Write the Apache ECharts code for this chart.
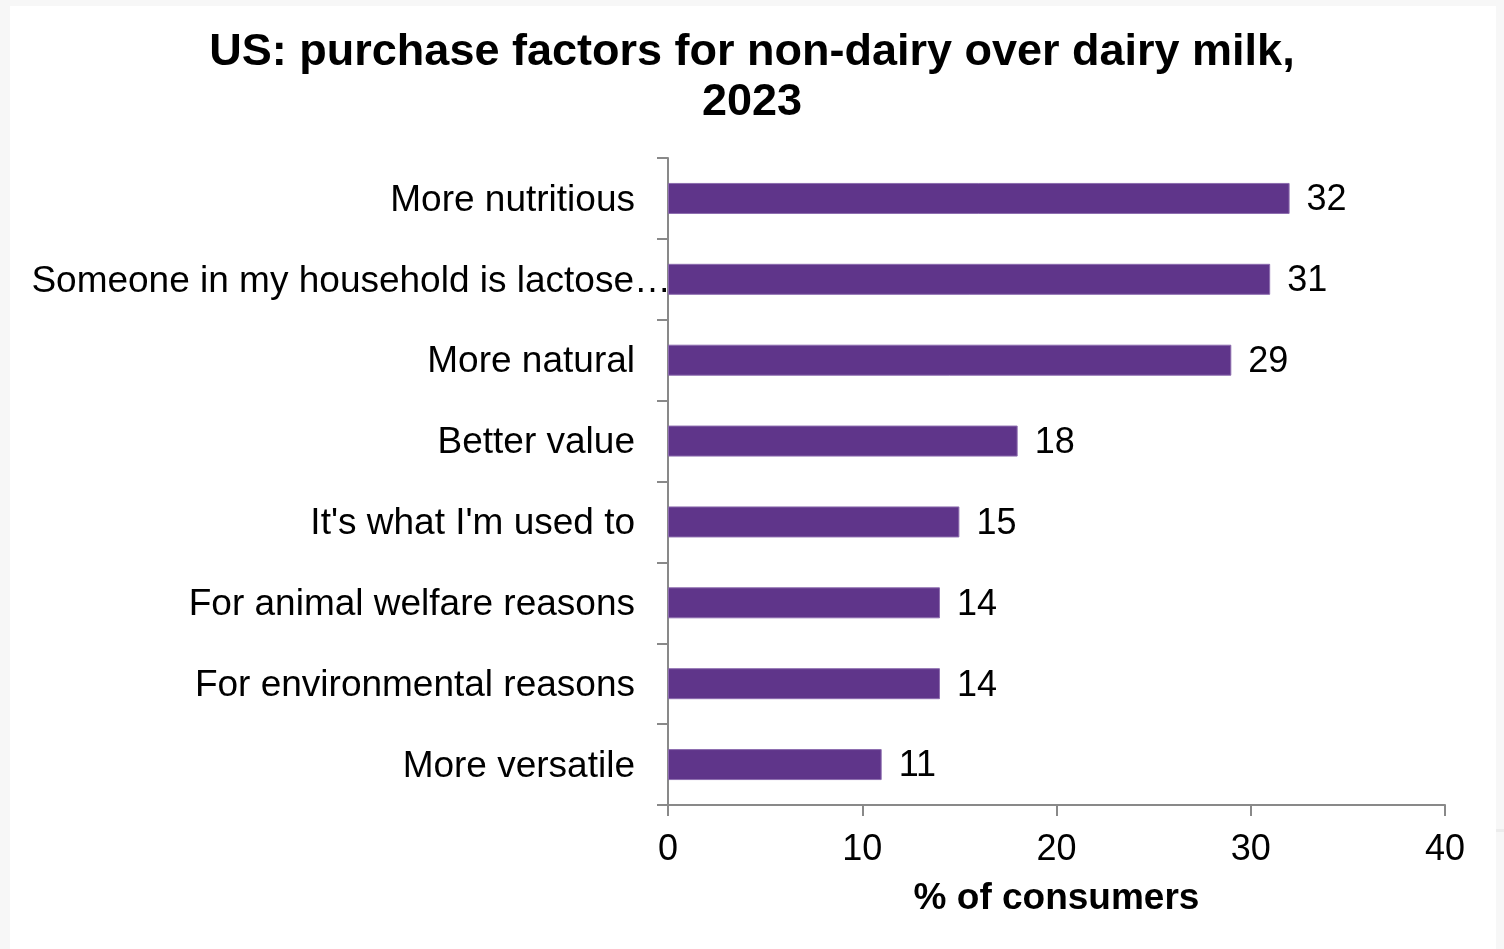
<!DOCTYPE html>
<html>
<head>
<meta charset="utf-8">
<script src="https://cdn.jsdelivr.net/npm/echarts@6/dist/echarts.min.js"></script>
<style>
  html, body { margin: 0; padding: 0; background: #f7f7f7; }
  #chart { width: 1504px; height: 949px; }
</style>
</head>
<body>
<div id="chart"></div>
<script>
// Purchase factors (% of consumers)
const categories = [
  'More nutritious',
  'Someone in my household is lactose…',
  'More natural',
  'Better value',
  "It's what I'm used to",
  'For animal welfare reasons',
  'For environmental reasons',
  'More versatile'
];
const values = [32, 31, 29, 18, 15, 14, 14, 11];
const xTicks = [0, 10, 20, 30, 40];

const FONT = '"Liberation Sans", Arial, Helvetica, sans-serif';
const AXIS_GREY = '#898989';
const BAR_COLOR = '#5f358a';

const chart = echarts.init(document.getElementById('chart'), null, { renderer: 'canvas' });

chart.setOption({
  backgroundColor: '#f7f7f7',
  animation: false,
  graphic: [
    {
      type: 'rect',
      z: -10,
      shape: { x: 10, y: 6, width: 1486, height: 943 },
      style: { fill: '#ffffff' }
    },
    {
      type: 'rect',
      z: -9,
      shape: { x: 1496, y: 829, width: 8, height: 3 },
      style: { fill: '#ececec' }
    }
  ],
  title: {
    text: 'US: purchase factors for non-dairy over dairy milk,\n2023',
    left: 'center',
    top: 23,
    textStyle: {
      fontFamily: FONT,
      fontSize: 45,
      fontWeight: 'bold',
      color: '#000',
      lineHeight: 50
    }
  },
  grid: {
    left: 668,
    right: 59,
    top: 158,
    bottom: 144,
    containLabel: false
  },
  xAxis: {
    type: 'value',
    min: xTicks[0],
    max: xTicks[xTicks.length - 1],
    interval: 10,
    name: '% of consumers',
    nameLocation: 'middle',
    nameGap: 75,
    nameTextStyle: {
      fontFamily: FONT,
      fontSize: 37,
      fontWeight: 'bold',
      color: '#000'
    },
    axisLine: { show: true, lineStyle: { color: AXIS_GREY, width: 2 } },
    axisTick: { show: true, length: 11, lineStyle: { color: AXIS_GREY, width: 2 } },
    splitLine: { show: false },
    axisLabel: {
      fontFamily: FONT,
      fontSize: 36,
      color: '#000',
      margin: 27
    }
  },
  yAxis: {
    type: 'category',
    inverse: true,
    data: categories,
    axisLine: { show: true, lineStyle: { color: AXIS_GREY, width: 2 } },
    axisTick: { show: true, length: 11, alignWithLabel: false, lineStyle: { color: AXIS_GREY, width: 2 } },
    axisLabel: {
      interval: 0,
      fontFamily: FONT,
      fontSize: 37,
      color: '#000',
      margin: 33,
      padding: [4, 0, 0, 0],
      formatter: function (v) {
        // a trailing ellipsis is allowed to run past the label edge
        if (v.endsWith('…')) {
          return '{t|' + v.slice(0, -1) + '}{e|…}';
        }
        return '{t|' + v + '}';
      },
      rich: {
        t: { fontFamily: FONT, fontSize: 37, color: '#000', align: 'left' },
        e: { fontFamily: FONT, fontSize: 37, color: '#000', align: 'left', width: 1 }
      }
    }
  },
  series: [
    {
      type: 'bar',
      data: values,
      barWidth: 31,
      itemStyle: {
        color: BAR_COLOR,
        borderColor: '#8c6cae',
        borderWidth: 1
      },
      label: {
        show: true,
        position: 'right',
        distance: 17,
        offset: [0, 2],
        fontFamily: FONT,
        fontSize: 36,
        color: '#000'
      }
    }
  ]
});
</script>
</body>
</html>
